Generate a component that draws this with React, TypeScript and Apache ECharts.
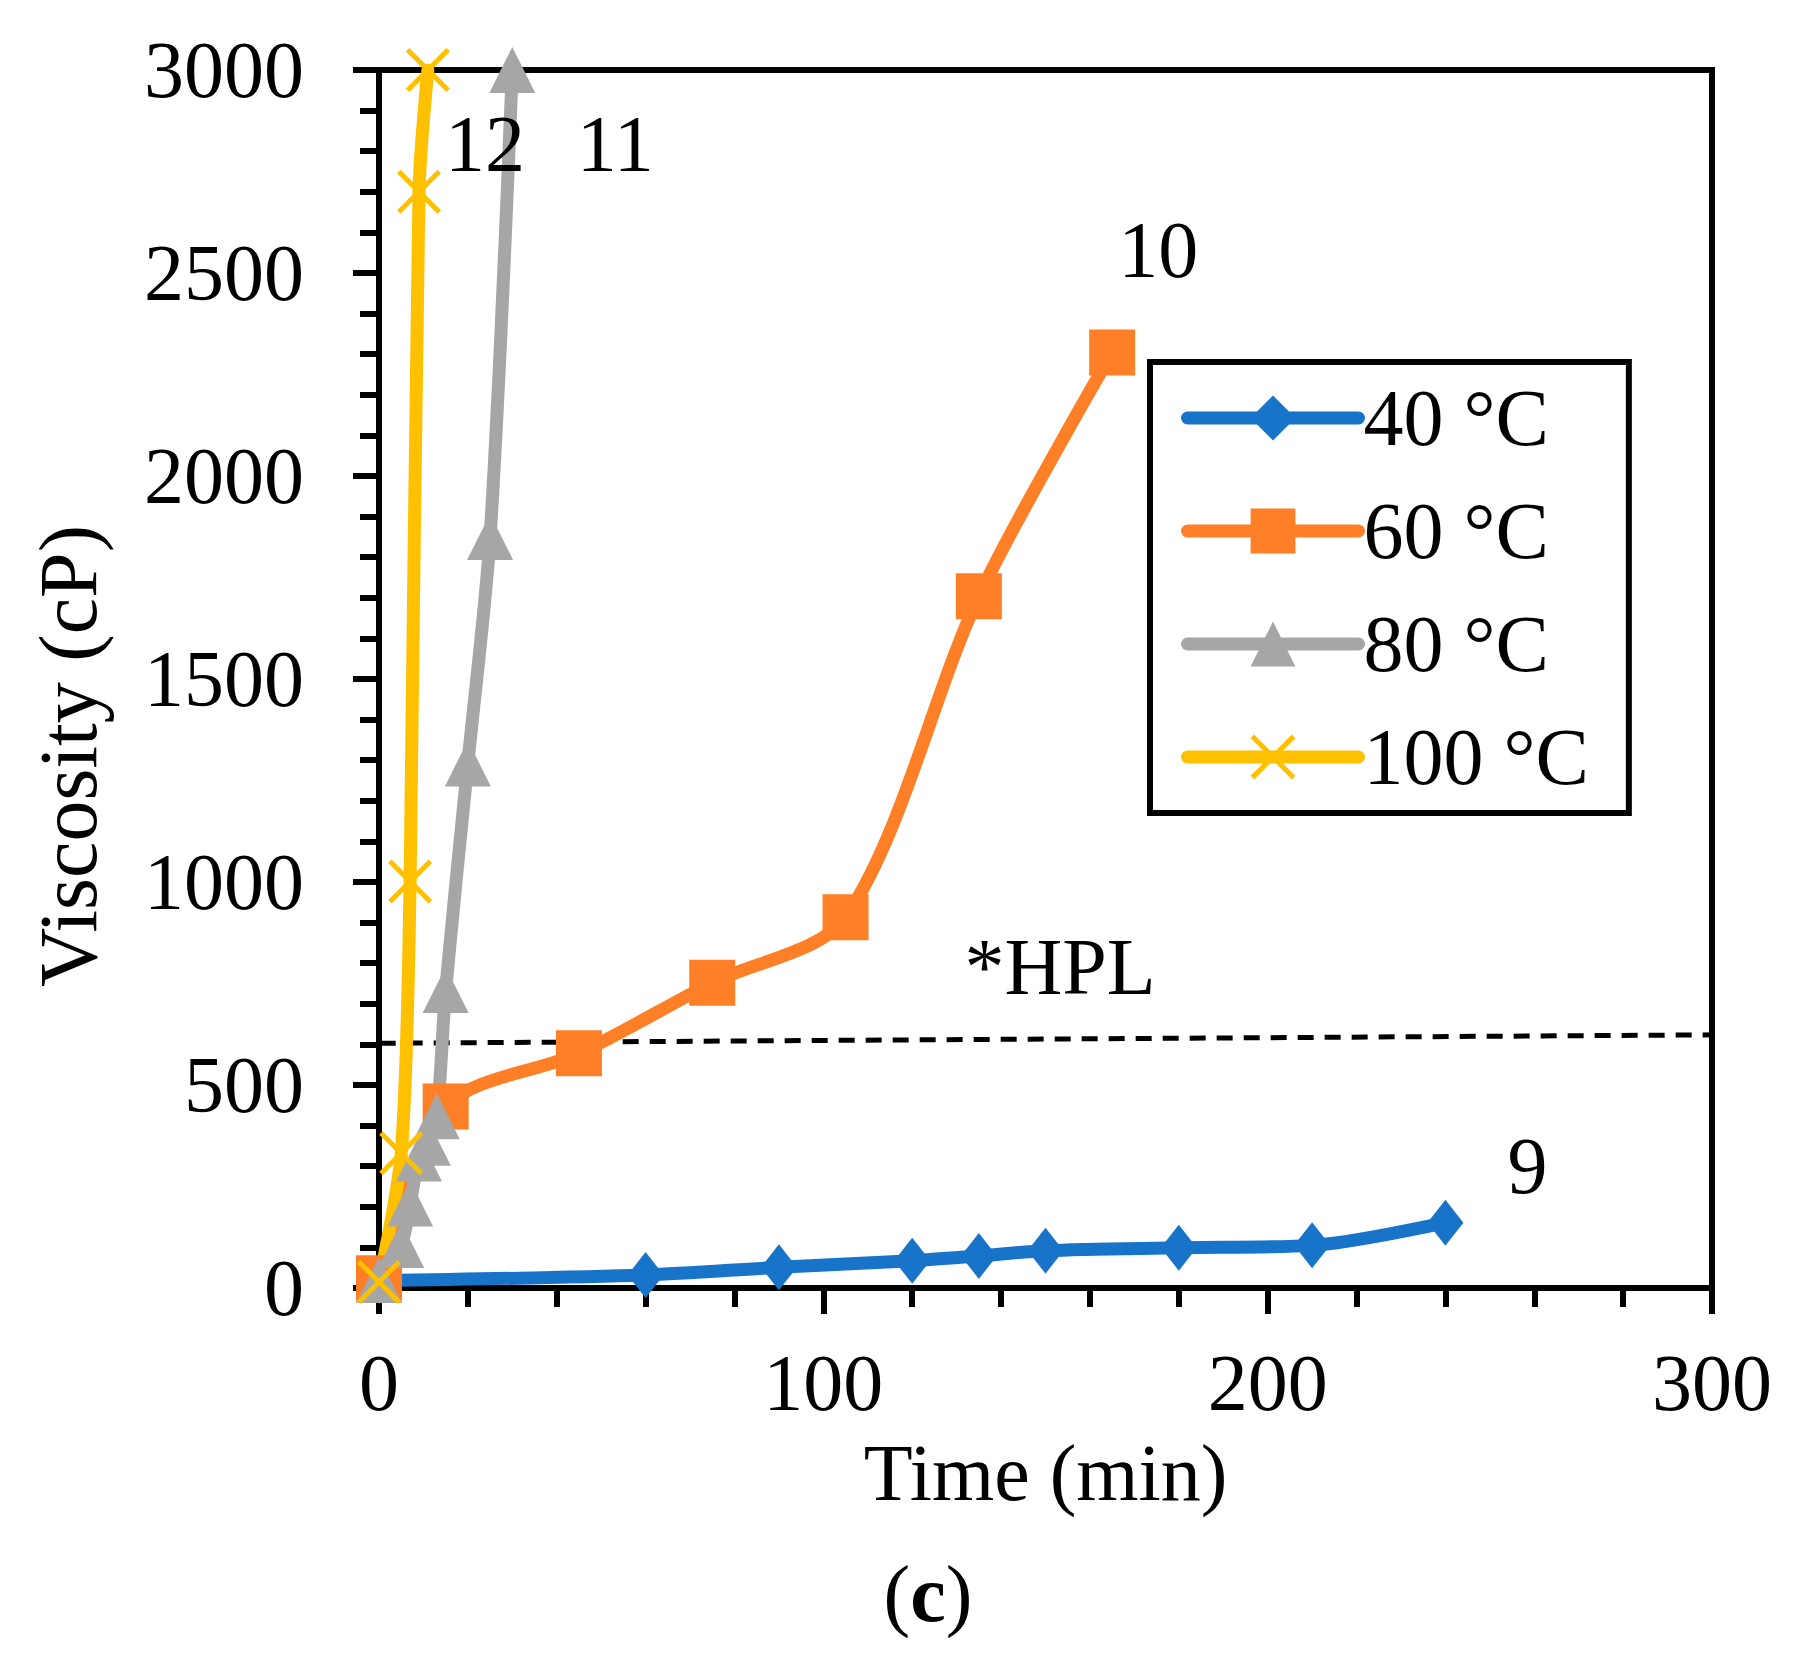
import { useEffect, useRef } from 'react'
import * as echarts from 'echarts'

const FONT = "'Liberation Serif', 'Times New Roman', serif"

const SERIES_NAMES = ['40 °C', '60 °C', '80 °C', '100 °C']
const COLORS = ['#1874C8', '#FF7F27', '#A6A6A6', '#FFC000']
const END_LABELS = ['9', '10', '11', '12']

const TIME_40 = [0, 60, 90, 120, 135, 150, 180, 210, 240]
const VISC_40 = [18, 32, 51, 67, 79, 92, 99, 105, 161]
const TIME_60 = [0, 15, 45, 75, 105, 135, 165]
const VISC_60 = [24, 447, 578, 752, 913, 1704, 2304]
const TIME_80 = [0, 5, 7, 9, 11, 13, 15, 20, 25, 30]
const VISC_80 = [20, 106, 208, 319, 358, 423, 734, 1292, 1850, 3000]
const TIME_100 = [0, 5, 7, 9, 11]
const VISC_100 = [15, 332, 1001, 2700, 3000]

// hand-drawn HPL guide line (runs past both axes)
const HPL_TIME = [-12, 308]
const HPL_VISC = [602, 624]

const X_TICKS = [0, 100, 200, 300]
const Y_TICKS = [0, 500, 1000, 1500, 2000, 2500, 3000]

const X_SYMBOL =
  'path://M0,8L8,0L50,42L92,0L100,8L58,50L100,92L92,100L50,58L8,100L0,92L42,50Z'

const LABEL_OFFSETS: [number, number][] = [
  [82, -57],
  [46, -103],
  [103, 74],
  [57, 74],
]

function buildPoints(times: number[], values: number[], idx: number) {
  return times.map((t, i) => {
    if (i !== times.length - 1) return [t, values[i]]
    return {
      value: [t, values[i]],
      label: {
        show: true,
        formatter: END_LABELS[idx],
        position: 'inside',
        offset: LABEL_OFFSETS[idx],
        color: '#000',
        fontSize: 80,
        fontFamily: FONT,
      },
    }
  })
}

function App() {
  const chartRef = useRef<HTMLDivElement | null>(null)

  useEffect(() => {
    if (!chartRef.current) {
      return undefined
    }

    const chart = echarts.init(chartRef.current, undefined, { renderer: 'svg' })

    const times = [TIME_40, TIME_60, TIME_80, TIME_100]
    const values = [VISC_40, VISC_60, VISC_80, VISC_100]
    const symbols = ['diamond', 'rect', 'triangle', X_SYMBOL]
    const sizes: (number | number[])[] = [[36, 46], 46, 46, 44]

    const dataSeries = SERIES_NAMES.map((name, i) => ({
      name,
      type: 'line',
      data: buildPoints(times[i], values[i], i),
      smooth: 0.3,
      symbol: symbols[i],
      symbolSize: sizes[i],
      showAllSymbol: true,
      color: COLORS[i],
      lineStyle: { width: 13, color: COLORS[i], cap: 'round' },
      itemStyle: { color: COLORS[i] },
      emphasis: { disabled: true },
    }))

    const tickStyle = { color: '#000', width: 6 }

    const option = {
      animation: false,
      grid: {
        left: 379,
        right: 84,
        top: 70,
        bottom: 391,
        show: true,
        borderColor: '#000',
        borderWidth: 6,
      },
      legend: {
        orient: 'vertical',
        left: 1150,
        top: 362,
        data: SERIES_NAMES,
        selectedMode: false,
        itemWidth: 171,
        itemHeight: 56,
        itemGap: 33,
        padding: [16, 40, 16, 31],
        borderColor: '#000',
        borderWidth: 6,
        backgroundColor: '#fff',
        lineStyle: { width: 13, cap: 'round' },
        textStyle: { fontSize: 80, fontFamily: FONT, color: '#000', lineHeight: 80 },
      },
      xAxis: {
        type: 'value',
        min: X_TICKS[0],
        max: X_TICKS[X_TICKS.length - 1],
        interval: X_TICKS[1] - X_TICKS[0],
        axisLine: { show: true, lineStyle: tickStyle },
        axisTick: { show: true, length: 26, lineStyle: tickStyle },
        minorTick: { show: true, splitNumber: 5, length: 19, lineStyle: tickStyle },
        splitLine: { show: false },
        axisLabel: {
          color: '#000',
          fontSize: 80,
          fontFamily: FONT,
          margin: 55,
          formatter: (v: number) => String(v),
        },
        name: 'Time (min)',
        nameLocation: 'middle',
        nameGap: 145,
        nameTextStyle: { color: '#000', fontSize: 80, fontFamily: FONT },
      },
      yAxis: {
        type: 'value',
        min: Y_TICKS[0],
        max: Y_TICKS[Y_TICKS.length - 1],
        interval: Y_TICKS[1] - Y_TICKS[0],
        axisLine: { show: true, lineStyle: tickStyle },
        axisTick: { show: true, length: 26, lineStyle: tickStyle },
        minorTick: { show: true, splitNumber: 5, length: 19, lineStyle: tickStyle },
        splitLine: { show: false },
        axisLabel: {
          color: '#000',
          fontSize: 80,
          fontFamily: FONT,
          margin: 75,
          formatter: (v: number) => String(v),
        },
      },
      graphic: [
        {
          type: 'text',
          x: 68,
          y: 756,
          rotation: Math.PI / 2,
          style: {
            text: 'Viscosity (cP)',
            fill: '#000',
            fontSize: 82,
            fontFamily: FONT,
            align: 'center',
            verticalAlign: 'middle',
          },
        },
        {
          type: 'text',
          x: 1060,
          y: 967,
          style: {
            text: '*HPL',
            fill: '#000',
            fontSize: 80,
            fontFamily: FONT,
            align: 'center',
            verticalAlign: 'middle',
          },
        },
        {
          type: 'text',
          x: 928,
          y: 1594,
          style: {
            text: '{a|(}{b|c}{a|)}',
            align: 'center',
            verticalAlign: 'middle',
            rich: {
              a: { fontSize: 80, fontFamily: FONT, fill: '#000', color: '#000' },
              b: { fontSize: 80, fontFamily: FONT, fontWeight: 'bold', fill: '#000', color: '#000' },
            },
          },
        },
      ],
      series: [
        ...dataSeries,
        {
          name: 'HPL',
          type: 'line',
          data: HPL_TIME.map((t, i) => [t, HPL_VISC[i]]),
          symbol: 'none',
          clip: false,
          z: 1,
          lineStyle: { color: '#000', width: 5, type: [16, 11] },
          emphasis: { disabled: true },
        },
      ],
    }

    chart.setOption(option as echarts.EChartsOption)

    return () => {
      chart.dispose()
    }
  }, [])

  return (
    <div
      ref={chartRef}
      style={{ position: 'fixed', left: 0, top: 0, width: 1796, height: 1679, background: '#fff' }}
    />
  )
}

export default App
